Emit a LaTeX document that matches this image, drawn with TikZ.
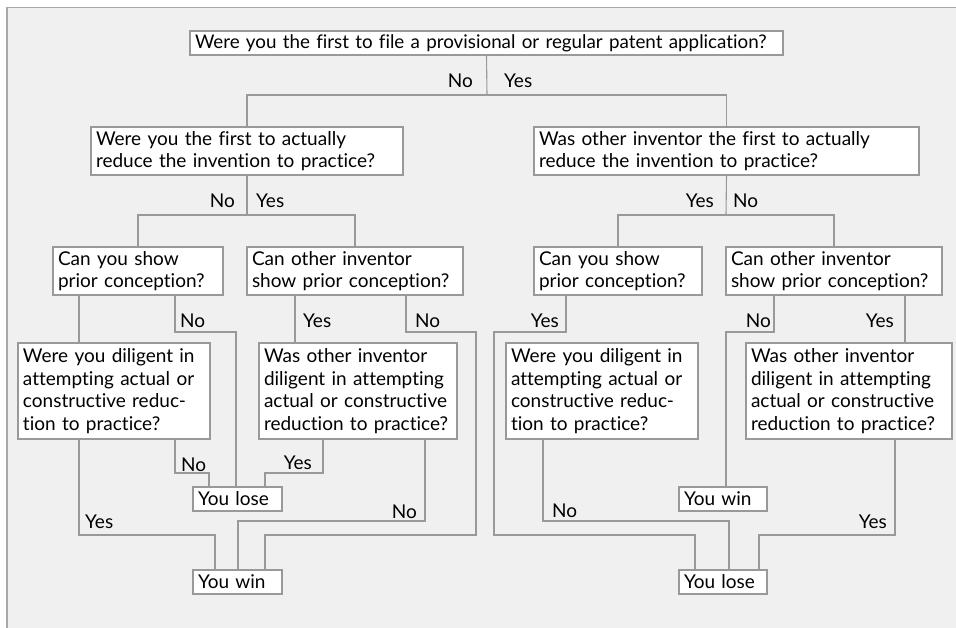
\documentclass[tikz,border=0pt]{standalone}
\usepackage{fontspec}
\setmainfont{Lato}[Ligatures={NoCommon}]
\usetikzlibrary{calc}
\definecolor{panel}{HTML}{F0F0F0}
\definecolor{edge}{HTML}{999999}
\definecolor{frame}{HTML}{A8A8A8}
\begin{document}
\begin{tikzpicture}[x=1pt,y=-1pt,
  box/.style={draw=edge, fill=white, line width=1.1pt, anchor=north west, outer sep=0pt,
    inner xsep=5pt, inner ysep=0pt, align=left, font=\fontsize{19}{22.6}\selectfont},
  topbox/.style={box, font=\fontsize{18.8}{22}\selectfont},
  lab/.style={inner sep=0pt, font=\fontsize{19}{22.6}\selectfont},
  conn/.style={draw=edge, line width=1.1pt}]
\useasboundingbox (0,0) rectangle (956,628);
\fill[white] (0,0) rectangle (956,628);
\fill[panel] (6,7) rectangle (956,628);
\draw[frame, line width=1.5pt] (6.75,628) -- (6.75,7.75) -- (956,7.75);

% boxes
\node[topbox, minimum width=593, minimum height=24, text width=583] (Q1) at (190,31)
  {Were you the first to file a provisional or regular patent application?};
\node[box, minimum width=312, minimum height=48, text width=302] (Q2L) at (91,127)
  {Were you the first to actually\\reduce the invention to practice?};
\node[box, minimum width=385, minimum height=48, text width=375] (Q2R) at (534,127)
  {Was other inventor the first to actually\\reduce the invention to practice?};
\node[box, minimum width=170, minimum height=48, text width=160] (Q3LA) at (53,247)
  {Can you show\\prior conception?};
\node[box, minimum width=216, minimum height=48, text width=206] (Q3LB) at (247,247)
  {Can other inventor\\show prior conception?};
\node[box, minimum width=168, minimum height=48, text width=158] (Q3RA) at (534,247)
  {Can you show\\prior conception?};
\node[box, minimum width=216, minimum height=48, text width=206] (Q3RB) at (726,247)
  {Can other inventor\\show prior conception?};
\node[box, minimum width=192, minimum height=96, text width=182] (Q4LA) at (18,343)
  {Were you diligent in\\attempting actual or\\constructive reduc-\\tion to practice?};
\node[box, minimum width=198, minimum height=96, text width=188] (Q4LB) at (259,343)
  {Was other inventor\\diligent in attempting\\actual or constructive\\reduction to practice?};
\node[box, minimum width=192, minimum height=96, text width=182] (Q4RA) at (506,343)
  {Were you diligent in\\attempting actual or\\constructive reduc-\\tion to practice?};
\node[box, minimum width=206, minimum height=96, text width=196] (Q4RB) at (746,343)
  {Was other inventor\\diligent in attempting\\actual or constructive\\reduction to practice?};
\node[box, minimum width=89, minimum height=24, text width=79] (loseL) at (193,487) {You lose};
\node[box, minimum width=89, minimum height=24, text width=79] (winL) at (193,570) {You win};
\node[box, minimum width=88, minimum height=24, text width=78] (winR) at (679,487) {You win};
\node[box, minimum width=88, minimum height=24, text width=78] (loseR) at (679,570) {You lose};

% junctions
\coordinate (j1) at (487,95);
\coordinate (j2) at (247,215);
\coordinate (j3) at (726,215);
\coordinate (c1) at (476,535);
\coordinate (c2) at (494,535);

% connectors
\draw[conn] (Q1.south) -- (j1);
\draw[conn] (Q2L.north) |- (j1) -| (Q2R.north);
\draw[conn] (Q2L.south) -- (j2);
\draw[conn] (Q3LA.north) |- (j2) -| (Q3LB.north);
\draw[conn] (Q2R.south) -- (j3);
\draw[conn] (Q3RA.north) |- (j3) -| (Q3RB.north);

\draw[conn] ([xshift=26pt]Q3LA.south west) -- ([xshift=26pt]Q3LA.south west |- Q4LA.north);
\draw[conn] ([xshift=122pt]Q3LA.south west) -- ([xshift=122pt]Q3LA.south west |- 0,332) -| ([xshift=43pt]loseL.north west);
\draw[conn] ([xshift=48pt]Q3LB.south west) -- ([xshift=48pt]Q3LB.south west |- Q4LB.north);
\draw[conn] ([xshift=159pt]Q3LB.south west) -- ([xshift=159pt]Q3LB.south west |- 0,332) -| (c1) -| ([xshift=72pt]winL.north west);
\draw[conn] ([xshift=61pt]Q4LA.south west) -- ([xshift=61pt]Q4LA.south west |- 0,535) -| ([xshift=22pt]winL.north west);
\draw[conn] ([xshift=157pt]Q4LA.south west) -- ([xshift=157pt]Q4LA.south west |- 0,473) -| ([xshift=16pt]loseL.north west);
\draw[conn] ([xshift=64pt]Q4LB.south west) -- ([xshift=64pt]Q4LB.south west |- 0,473) -| ([xshift=72pt]loseL.north west);
\draw[conn] ([xshift=166pt]Q4LB.south west) -- ([xshift=166pt]Q4LB.south west |- 0,521) -| ([xshift=45pt]winL.north west);

\draw[conn] ([xshift=32pt]Q3RA.south west) -- ([xshift=32pt]Q3RA.south west |- 0,332) -| (c2) -| ([xshift=16pt]loseR.north west);
\draw[conn] ([xshift=37pt]Q4RA.south west) -- ([xshift=37pt]Q4RA.south west |- 0,521) -| ([xshift=50pt]loseR.north west);
\draw[conn] ([xshift=48pt]Q3RB.south west) -- ([xshift=48pt]Q3RB.south west |- 0,332) -| ([xshift=47pt]winR.north west);
\draw[conn] ([xshift=179pt]Q3RB.south west) -- ([xshift=179pt]Q3RB.south west |- Q4RB.north);
\draw[conn] ([xshift=149pt]Q4RB.south west) -- ([xshift=149pt]Q4RB.south west |- 0,535) -| ([xshift=80pt]loseR.north west);

% labels
\node[lab, anchor=base east] (l1) at (473,88) {No};
\node[lab, anchor=base west] (l2) at (504,88) {Yes};
\node[lab, anchor=base east] (l3) at (235,208) {No};
\node[lab, anchor=base west] (l4) at (256,208) {Yes};
\node[lab, anchor=base east] (l5) at (714,208) {Yes};
\node[lab, anchor=base west] (l6) at (733,208) {No};
\node[lab, anchor=base west] (l7) at (180,328) {No};
\node[lab, anchor=base west] (l8) at (303,328) {Yes};
\node[lab, anchor=base west] (l9) at (415,328) {No};
\node[lab, anchor=base east] (l10) at (559,328) {Yes};
\node[lab, anchor=base east] (l11) at (771,328) {No};
\node[lab, anchor=base east] (l12) at (894,328) {Yes};
\node[lab, anchor=base west] (l13) at (181,471) {No};
\node[lab, anchor=base east] (l14) at (312,469) {Yes};
\node[lab, anchor=base west] (l15) at (85,528) {Yes};
\node[lab, anchor=base east] (l16) at (417,518) {No};
\node[lab, anchor=base west] (l17) at (552,517) {No};
\node[lab, anchor=base east] (l18) at (887,528) {Yes};
\end{tikzpicture}
\end{document}
